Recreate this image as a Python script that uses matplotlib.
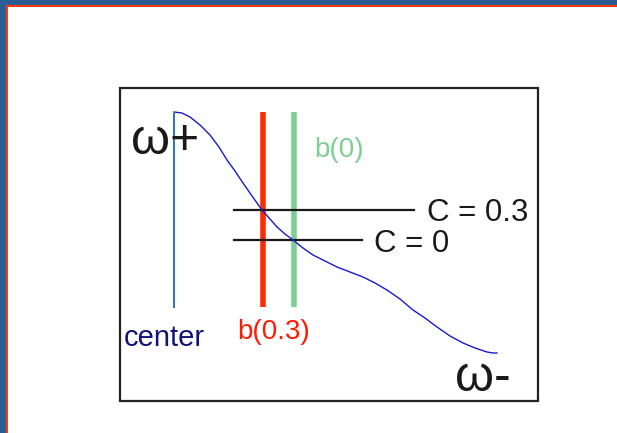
import numpy as np
import matplotlib
matplotlib.use('Agg')
import matplotlib.pyplot as plt
from matplotlib.patches import Rectangle

plt.rcParams['font.family'] = ['Liberation Sans', 'DejaVu Sans']

# curva (coordinate in pixel della slide, y verso il basso)
curve_x = [174, 182, 190, 200, 210, 219, 227, 235, 243, 252, 262, 270, 277, 285, 293,
           303, 313, 325, 337, 350, 363, 375, 387, 400, 413, 425, 437, 450, 463, 475,
           487, 493, 497]
curve_y = [112, 113, 117, 125, 135, 147, 160, 171, 183, 196, 210, 219, 227, 234, 240,
           248, 255, 261, 267, 272, 277, 283, 290, 299, 310, 318, 327, 336, 343, 348,
           352, 353, 353]

# linee verticali: center, b(0.3), b(0)
vlines_x = [174, 263, 294]
vlines_top = [113, 112, 112]
vlines_bottom = [308, 307, 307]
vlines_col = ['#1a6aa6', '#ff2a00', '#7ecf94']
vlines_w = [1.3, 4.0, 4.0]

# linee orizzontali C = 0.3, C = 0
hlines_y = [210, 240]
hlines_x0 = [234, 234]
hlines_x1 = [414, 362]

fig = plt.figure(figsize=(6.17, 4.33), dpi=100)
ax = fig.add_axes([0, 0, 1, 1])
ax.set_xlim(0, 617)
ax.set_ylim(433, 0)
ax.axis('off')

# sfondo della slide
ax.add_patch(Rectangle((0, 0), 617, 433, color='#2a5d92', zorder=0))
ax.add_patch(Rectangle((6, 5), 620, 440, facecolor='#ff3a10', edgecolor='none', zorder=1))
ax.add_patch(Rectangle((8, 7), 620, 440, facecolor='white', edgecolor='none', zorder=2))

# riquadro
ax.add_patch(Rectangle((120, 88), 418, 313, facecolor='none', edgecolor='#222222',
                       linewidth=1.6, zorder=3))

for x, t, b, c, w in zip(vlines_x, vlines_top, vlines_bottom, vlines_col, vlines_w):
    ax.plot([x, x], [t, b], color=c, linewidth=w, solid_capstyle='butt', zorder=4)

for y, x0, x1 in zip(hlines_y, hlines_x0, hlines_x1):
    ax.plot([x0, x1], [y, y], color='#1a1a1a', linewidth=1.6, zorder=5)

ax.plot(curve_x, curve_y, color='#1a1acc', linewidth=1.0, zorder=6)

ax.text(131, 154, 'ω+', fontsize=36, color='#1a1a1a', va='baseline', ha='left', zorder=7)
ax.text(455, 391, 'ω-', fontsize=36, color='#1a1a1a', va='baseline', ha='left', zorder=7)

ax.text(427, 221, 'C = 0.3', fontsize=22.5, color='#1a1a1a', va='baseline', ha='left', zorder=7)
ax.text(374, 252, 'C = 0', fontsize=22.5, color='#1a1a1a', va='baseline', ha='left', zorder=7)
ax.text(314, 157, 'b(0)', fontsize=20, color='#7ecf94', va='baseline', ha='left', zorder=7)
ax.text(237, 339, 'b(0.3)', fontsize=20, color='#ff1a00', va='baseline', ha='left', zorder=7)
ax.text(124, 346, 'center', fontsize=21, color='#12127a', va='baseline', ha='left', zorder=7)

fig.savefig('out.png', dpi=100)
